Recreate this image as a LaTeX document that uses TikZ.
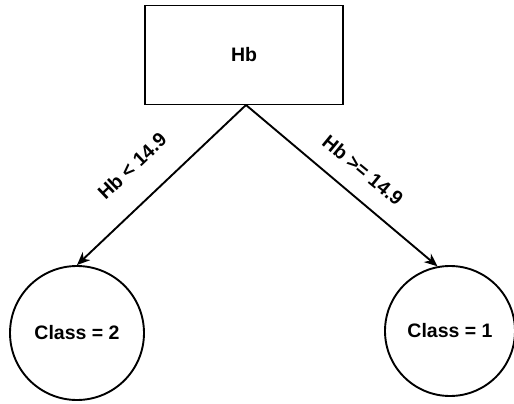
\documentclass[tikz,border=0pt]{standalone}
\usepackage{fontspec}
\setmainfont{Liberation Sans}
\usetikzlibrary{arrows.meta}
\begin{document}
\begin{tikzpicture}[x=1pt,y=-1pt,
  every node/.style={font=\bfseries\fontsize{19.5}{22}\selectfont, inner sep=0pt},
  splitbox/.style={draw, line width=1.9pt, minimum width=198pt, minimum height=99pt},
  leafnode/.style={draw, circle, line width=1.9pt},
  branch/.style={line width=1.9pt, -{Stealth[length=13pt, width=11pt, inset=4pt]}},
  cond/.style={inner sep=1pt}]
  \useasboundingbox (0,0) rectangle (514,404);
  % decision node
  \node[splitbox] (root) at (244,55) {Hb};
  % leaves
  \node[leafnode, minimum size=134pt] (left) at (77,333) {Class = 2};
  \node[leafnode, minimum size=130pt] (right) at (450,331) {Class = 1};
  % branches
  \coordinate (apex) at (246,105);
  \draw[branch] (apex) -- (left.north);
  \draw[branch] (apex) -- (right.101);
  % branch conditions
  \node[cond, rotate=43.6] (lt) at (132,166) {Hb < 14.9};
  \node[cond, rotate=-39.4] (ge) at (363,170) {Hb >= 14.9};
\end{tikzpicture}
\end{document}
